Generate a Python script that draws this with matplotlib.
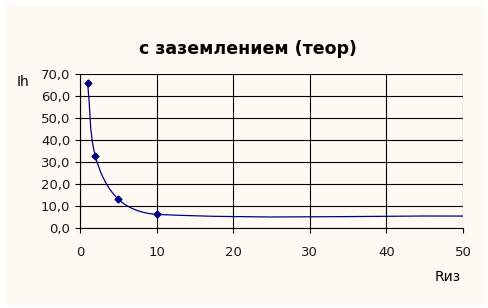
import numpy as np
import matplotlib.pyplot as plt
from matplotlib.path import Path
from matplotlib.patches import PathPatch, Rectangle

# data
r_iz = [1, 2, 5, 10, 50]
i_h = [66.0, 32.7, 13.0, 6.1, 5.3]
n_markers = 4  # last point has no marker

x_ticks = [0, 10, 20, 30, 40, 50]
y_ticks = [0, 10, 20, 30, 40, 50, 60, 70]

title = 'с заземлением (теор)'
x_label = 'Rиз'
y_label = 'Ih'

navy = '#000080'
bg = '#fff9f4'

# axes box in pixels (left, bottom, width, height)
ax_px = (80, 308 - 227.7, 383, 153.4)
x_max, y_max = 50, 70


# smoothed line like Excel: bezier segments through the points,
# tangents taken in screen space so long segments don't loop back
def smooth_path(xs, ys, sx, sy):
    pts = np.column_stack([np.asarray(xs) * sx, np.asarray(ys) * sy])
    n = len(pts)

    def unit(v):
        return v / np.hypot(*v)

    verts = [pts[0]]
    codes = [Path.MOVETO]
    for i in range(n - 1):
        p0 = pts[max(i - 1, 0)]
        p1 = pts[i]
        p2 = pts[i + 1]
        p3 = pts[min(i + 2, n - 1)]
        seg = np.hypot(*(p2 - p1)) / 3
        c1 = p1 + unit(p2 - p0) * seg
        c2 = p2 - unit(p3 - p1) * seg
        verts += [c1, c2, p2]
        codes += [Path.CURVE4] * 3
    verts = np.array(verts) / [sx, sy]
    return Path(verts, codes)


fig = plt.figure(figsize=(4.88, 3.08), dpi=100)
fig.patches.append(Rectangle((5 / 488, 3 / 308), 480 / 488, 300 / 308,
                             transform=fig.transFigure, facecolor=bg,
                             edgecolor='none', zorder=-1))

ax = fig.add_axes([ax_px[0] / 488, ax_px[1] / 308,
                   ax_px[2] / 488, ax_px[3] / 308])
ax.patch.set_visible(False)

path = smooth_path(r_iz, i_h, ax_px[2] / x_max, ax_px[3] / y_max)
ax.add_patch(PathPatch(path, facecolor='none', edgecolor=navy, lw=0.9,
                       zorder=3))
ax.plot(r_iz[:n_markers], i_h[:n_markers], linestyle='none', marker='D',
        markersize=3.5, color=navy, zorder=4)

ax.set_xlim(0, x_max)
ax.set_ylim(0, y_max)
ax.set_xticks(x_ticks)
ax.set_yticks(y_ticks)
ax.set_yticklabels([f'{v:.1f}'.replace('.', ',') for v in y_ticks])
ax.tick_params(labelsize=9.5, length=3.5, width=0.8, color='black',
               labelcolor='#1a1a1a')
ax.tick_params(axis='x', pad=10)
ax.grid(True, color='black', lw=0.8)
ax.set_axisbelow(True)
for side in ['top', 'right']:
    ax.spines[side].set_visible(False)
for side in ['left', 'bottom']:
    ax.spines[side].set_linewidth(0.8)

fig.text(248 / 488, 1 - 49 / 308, title, ha='center', va='center',
         fontsize=12.5, fontweight='bold')
fig.text(17 / 488, 1 - 82 / 308, y_label, ha='left', va='center', fontsize=10)
fig.text(435 / 488, 1 - 277 / 308, x_label, ha='left', va='center', fontsize=10)

fig.savefig('out.png', dpi=100)
